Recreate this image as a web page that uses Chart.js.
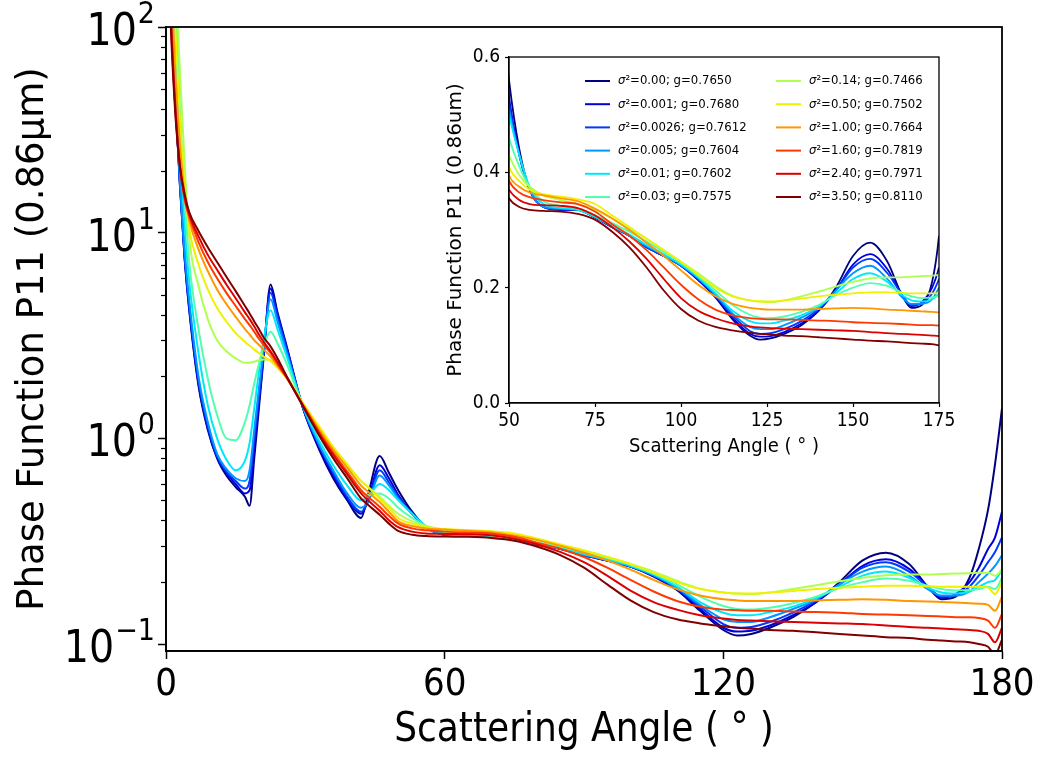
<!DOCTYPE html>
<html>
<head>
<meta charset="utf-8">
<script src="https://cdn.jsdelivr.net/npm/chart.js@4.4.1/dist/chart.umd.min.js"></script>
<style>
  body { margin: 0; background: #fff; }
  #wrap { position: relative; width: 1044px; height: 757px; }
  #main { position: absolute; left: 0; top: 0; }
  #inset { position: absolute; left: 430px; top: 40px; }
</style>
</head>
<body>
<div id="wrap">
  <canvas id="main" width="1044" height="757"></canvas>
  <canvas id="inset" width="540" height="430"></canvas>
</div>
<script>
// scattering angle grid (deg), shared by all curves
const angles = [0, 1, 2, 3, 4, 5, 7, 9, 11, 13, 15, 17, 18, 19, 20, 21, 22.5, 24, 26, 29.5,
  33, 36, 39, 42, 43.5, 46, 48, 50, 53, 56, 60, 65, 70, 75, 80, 85, 90, 95, 100, 105,
  110, 115, 120, 123, 126, 130, 135, 140, 145, 150, 155, 160, 164, 167, 170, 173, 175, 177, 178.5, 180];

const sigma2 = ['0.00', '0.001', '0.0026', '0.005', '0.01', '0.03', '0.14', '0.50', '1.00', '1.60', '2.40', '3.50'];
const gValues = ['0.7650', '0.7680', '0.7612', '0.7604', '0.7602', '0.7575', '0.7466', '0.7502', '0.7664', '0.7819', '0.7971', '0.8110'];
const colors = ['#000080', '#0000dc', '#003aff', '#0097ff', '#00e8f8', '#51ffae', '#aeff51', '#f0f000', '#ff9700', '#ff3a00', '#dc0000', '#800000'];

// P11 values
const p000 = [800, 150, 45, 17, 7.5, 4.2, 1.8, 1.1, 0.8, 0.66, 0.58, 0.52, 0.47, 0.8, 1.4, 2.45, 5.6, 4.1, 2.8, 1.4,
  0.88, 0.64, 0.5, 0.41, 0.53, 0.82, 0.68, 0.56, 0.44, 0.37, 0.34, 0.335, 0.335, 0.322, 0.305, 0.29, 0.27, 0.255, 0.238, 0.213,
  0.183, 0.145, 0.117, 0.11, 0.112, 0.12, 0.135, 0.16, 0.2, 0.255, 0.278, 0.245, 0.19, 0.165, 0.17, 0.21, 0.29, 0.45, 0.75, 1.4];
const p001 = [800, 150, 45, 17, 7.6, 4.3, 1.85, 1.12, 0.81, 0.68, 0.6, 0.54, 0.56, 0.9, 1.5, 2.5, 5.35, 4.0, 2.75, 1.4,
  0.9, 0.66, 0.51, 0.43, 0.5, 0.74, 0.64, 0.53, 0.43, 0.37, 0.34, 0.335, 0.335, 0.322, 0.305, 0.29, 0.27, 0.255, 0.238, 0.214,
  0.185, 0.148, 0.12, 0.115, 0.116, 0.123, 0.138, 0.16, 0.195, 0.24, 0.258, 0.232, 0.19, 0.168, 0.175, 0.2, 0.235, 0.29, 0.33, 0.44];
const p0026 = [800, 155, 46, 17.5, 7.8, 4.4, 1.9, 1.15, 0.82, 0.69, 0.62, 0.57, 0.62, 1.0, 1.6, 2.6, 5.1, 3.9, 2.7, 1.41,
  0.92, 0.68, 0.52, 0.44, 0.49, 0.7, 0.61, 0.52, 0.43, 0.37, 0.34, 0.336, 0.335, 0.322, 0.305, 0.29, 0.27, 0.255, 0.238, 0.215,
  0.186, 0.152, 0.125, 0.12, 0.121, 0.128, 0.142, 0.163, 0.195, 0.235, 0.25, 0.225, 0.19, 0.17, 0.173, 0.19, 0.215, 0.25, 0.28, 0.33];
const p005 = [820, 160, 48, 18, 8.2, 4.7, 2.0, 1.2, 0.84, 0.71, 0.64, 0.62, 0.7, 1.1, 1.75, 2.7, 4.75, 3.7, 2.6, 1.42,
  0.93, 0.7, 0.54, 0.46, 0.49, 0.66, 0.59, 0.51, 0.43, 0.37, 0.34, 0.337, 0.335, 0.322, 0.306, 0.29, 0.272, 0.256, 0.239, 0.216,
  0.188, 0.155, 0.132, 0.128, 0.128, 0.135, 0.148, 0.165, 0.195, 0.225, 0.238, 0.215, 0.185, 0.172, 0.172, 0.18, 0.2, 0.22, 0.24, 0.27];
const p01 = [900, 200, 100, 28, 11, 5.8, 2.6, 1.45, 1.0, 0.79, 0.7, 0.78, 0.95, 1.4, 2.1, 3.0, 4.2, 3.4, 2.5, 1.43,
  0.97, 0.74, 0.59, 0.5, 0.52, 0.6, 0.56, 0.5, 0.43, 0.375, 0.345, 0.338, 0.335, 0.323, 0.307, 0.292, 0.274, 0.258, 0.24, 0.218,
  0.19, 0.16, 0.142, 0.138, 0.138, 0.143, 0.152, 0.167, 0.19, 0.215, 0.225, 0.21, 0.188, 0.178, 0.176, 0.18, 0.19, 0.2, 0.205, 0.23];
const p03 = [1000, 400, 150, 40, 15, 7.2, 3.4, 1.95, 1.3, 1.0, 0.98, 1.2, 1.45, 1.85, 2.3, 2.8, 3.3, 2.9, 2.3, 1.45,
  1.03, 0.8, 0.65, 0.55, 0.53, 0.54, 0.51, 0.46, 0.41, 0.375, 0.35, 0.342, 0.337, 0.326, 0.312, 0.297, 0.28, 0.262, 0.243, 0.22,
  0.195, 0.17, 0.153, 0.148, 0.147, 0.15, 0.158, 0.17, 0.187, 0.2, 0.208, 0.203, 0.192, 0.185, 0.182, 0.183, 0.185, 0.19, 0.185, 0.21];
const p14 = [1200, 500, 200, 60, 22, 9.5, 5.5, 3.8, 3.0, 2.65, 2.45, 2.33, 2.33, 2.36, 2.4, 2.42, 2.4, 2.25, 2.0, 1.48,
  1.13, 0.9, 0.74, 0.62, 0.58, 0.52, 0.47, 0.43, 0.395, 0.375, 0.36, 0.352, 0.345, 0.335, 0.32, 0.302, 0.285, 0.265, 0.245, 0.225,
  0.203, 0.186, 0.178, 0.176, 0.175, 0.178, 0.185, 0.193, 0.202, 0.21, 0.216, 0.218, 0.218, 0.219, 0.22, 0.221, 0.222, 0.222, 0.215, 0.23];
const p50 = [900, 300, 100, 35, 17, 10.5, 7.0, 5.3, 4.3, 3.7, 3.25, 2.95, 2.82, 2.7, 2.6, 2.5, 2.38, 2.2, 1.96, 1.48,
  1.14, 0.91, 0.75, 0.62, 0.58, 0.51, 0.46, 0.41, 0.385, 0.37, 0.362, 0.358, 0.353, 0.345, 0.325, 0.305, 0.285, 0.265, 0.245, 0.222,
  0.2, 0.185, 0.178, 0.176, 0.176, 0.178, 0.181, 0.185, 0.188, 0.19, 0.192, 0.192, 0.191, 0.19, 0.19, 0.19, 0.19, 0.188, 0.175, 0.2];
const p100 = [800, 200, 60, 27, 15.5, 11.5, 8.3, 6.5, 5.3, 4.5, 3.9, 3.4, 3.2, 3.0, 2.85, 2.7, 2.5, 2.25, 1.96, 1.46,
  1.1, 0.88, 0.72, 0.59, 0.55, 0.49, 0.44, 0.395, 0.375, 0.365, 0.36, 0.355, 0.35, 0.337, 0.32, 0.3, 0.278, 0.255, 0.23, 0.205,
  0.185, 0.172, 0.165, 0.163, 0.162, 0.162, 0.162, 0.163, 0.164, 0.165, 0.164, 0.162, 0.161, 0.16, 0.159, 0.158, 0.157, 0.155, 0.145, 0.17];
const p160 = [600, 125, 42, 21, 14.5, 12, 9.0, 7.2, 6.0, 5.1, 4.4, 3.8, 3.55, 3.3, 3.05, 2.85, 2.6, 2.3, 1.97, 1.45,
  1.07, 0.85, 0.69, 0.56, 0.52, 0.465, 0.42, 0.385, 0.365, 0.357, 0.352, 0.348, 0.345, 0.332, 0.31, 0.29, 0.265, 0.235, 0.205, 0.18,
  0.162, 0.152, 0.147, 0.146, 0.145, 0.145, 0.144, 0.143, 0.142, 0.14, 0.139, 0.138, 0.137, 0.136, 0.135, 0.135, 0.134, 0.13, 0.12, 0.14];
const p240 = [550, 115, 40, 21, 15, 12.3, 9.6, 7.8, 6.6, 5.6, 4.8, 4.1, 3.8, 3.5, 3.2, 2.95, 2.65, 2.35, 1.98, 1.44,
  1.05, 0.83, 0.67, 0.54, 0.5, 0.445, 0.4, 0.37, 0.352, 0.345, 0.343, 0.342, 0.338, 0.325, 0.305, 0.28, 0.25, 0.215, 0.182, 0.16,
  0.147, 0.138, 0.133, 0.131, 0.13, 0.129, 0.128, 0.127, 0.126, 0.125, 0.123, 0.121, 0.12, 0.119, 0.118, 0.117, 0.116, 0.112, 0.102, 0.12];
const p350 = [500, 105, 38, 21, 15.5, 12.6, 10.2, 8.5, 7.2, 6.1, 5.2, 4.4, 4.05, 3.7, 3.4, 3.1, 2.8, 2.45, 2.0, 1.43,
  1.03, 0.8, 0.64, 0.51, 0.475, 0.425, 0.385, 0.355, 0.34, 0.335, 0.333, 0.332, 0.328, 0.318, 0.297, 0.27, 0.235, 0.195, 0.163, 0.143,
  0.132, 0.126, 0.122, 0.12, 0.119, 0.117, 0.116, 0.114, 0.112, 0.11, 0.108, 0.107, 0.105, 0.104, 0.103, 0.102, 0.1, 0.097, 0.089, 0.105];

const series = [p000, p001, p0026, p005, p01, p03, p14, p50, p100, p160, p240, p350];

// axis ticks
const mainXTicks = [0, 60, 120, 180];
const mainYTicks = [0.1, 1, 10, 100];
const minorMantissas = [2, 3, 4, 5, 6, 7, 8, 9];
const insetXTicks = [50, 75, 100, 125, 150, 175];
const insetYTicks = [0, 0.2, 0.4, 0.6];

const FONT = '"DejaVu Sans", sans-serif';
const FONT_C = '"DejaVu Sans Condensed", "Liberation Sans Narrow", "DejaVu Sans", sans-serif';

Chart.defaults.font.family = FONT;
Chart.defaults.color = '#000';

function makeDatasets(width) {
  return series.map((vals, i) => ({
    label: 'σ²=' + sigma2[i] + '; g=' + gValues[i],
    data: angles.map((a, k) => ({ x: a, y: vals[k] })),
    borderColor: colors[i],
    borderWidth: width,
    pointRadius: 0,
    cubicInterpolationMode: 'monotone',
    fill: false,
    order: series.length - 1 - i // dark red drawn last, like matplotlib
  }));
}

// box around the plot area, white face, minor log ticks and 10^n labels
const frame = {
  id: 'frame',
  beforeDraw(chart, args, opts) {
    const { ctx, chartArea: a } = chart;
    ctx.save();
    ctx.fillStyle = '#fff';
    ctx.fillRect(a.left, a.top, a.right - a.left, a.bottom - a.top);
    ctx.restore();
  },
  afterDraw(chart, args, opts) {
    const { ctx, chartArea: a, scales } = chart;
    ctx.save();
    ctx.strokeStyle = '#000';
    ctx.lineWidth = opts.width;
    ctx.strokeRect(a.left, a.top, a.right - a.left, a.bottom - a.top);
    if (opts.minor) {
      const y = scales.y;
      ctx.lineWidth = 1.2;
      mainYTicks.slice(0, -1).forEach(dec => {
        minorMantissas.forEach(m => {
          const py = Math.round(y.getPixelForValue(dec * m)) + 0.5;
          ctx.beginPath();
          ctx.moveTo(a.left - opts.minor, py);
          ctx.lineTo(a.left, py);
          ctx.stroke();
        });
      });
      // mathtext-like 10^n labels
      ctx.fillStyle = '#000';
      ctx.textAlign = 'right';
      ctx.textBaseline = 'alphabetic';
      mainYTicks.forEach(v => {
        const py = y.getPixelForValue(v);
        const e = Math.round(Math.log10(v));
        const expText = (e < 0 ? '\u2212' : '') + Math.abs(e);
        ctx.font = '30px ' + FONT_C;
        ctx.fillText(expText, opts.labelRight, py - 4);
        const w = ctx.measureText(expText).width;
        ctx.font = '44px ' + FONT_C;
        ctx.fillText('10', opts.labelRight - w - 1, py + 18);
      });
    }
    ctx.restore();
  }
};

const insetLegend = {
  id: 'insetLegend',
  afterDraw(chart, args, o) {
    const { ctx, chartArea: a } = chart;
    ctx.save();
    ctx.textBaseline = 'middle';
    ctx.textAlign = 'left';
    chart.data.datasets.forEach((ds, i) => {
      const col = Math.floor(i / o.rows), row = i % o.rows;
      const x = a.left + o.colX[col];
      const y = a.top + o.top + row * o.rowGap;
      ctx.strokeStyle = ds.borderColor;
      ctx.lineWidth = 2;
      ctx.beginPath();
      ctx.moveTo(x, y);
      ctx.lineTo(x + o.lineLen, y);
      ctx.stroke();
      ctx.fillStyle = '#000';
      let tx = x + o.textGap;
      ctx.font = 'italic ' + o.size + 'px ' + o.family;
      ctx.fillText('σ', tx, y);
      tx += ctx.measureText('σ').width;
      ctx.font = o.size + 'px ' + o.family;
      ctx.fillText(ds.label.slice(1), tx, y);
    });
    ctx.restore();
  }
};

new Chart(document.getElementById('main'), {
  type: 'line',
  data: { datasets: makeDatasets(2) },
  plugins: [frame],
  options: {
    responsive: false,
    animation: false,
    layout: { padding: { top: 27, right: 42, left: 0, bottom: 0 } },
    plugins: {
      legend: { display: false },
      tooltip: { enabled: false },
      frame: { width: 1.8, minor: 5, labelRight: 155 }
    },
    scales: {
      x: {
        type: 'linear',
        min: 0,
        max: 180,
        afterBuildTicks: s => { s.ticks = mainXTicks.map(v => ({ value: v })); },
        afterFit: s => { s.height = 106; },
        grid: { drawOnChartArea: false, tickLength: 8, tickColor: '#000', tickWidth: 1.5 },
        border: { color: '#000', width: 1.8 },
        ticks: { autoSkip: false, maxRotation: 0, padding: 3, font: { family: FONT_C, size: 38 } },
        title: {
          display: true,
          text: 'Scattering Angle ( ° )',
          font: { family: FONT_C, size: 40 },
          padding: { top: 0, bottom: 2 }
        }
      },
      y: {
        type: 'logarithmic',
        min: 0.0925,
        max: 100,
        afterBuildTicks: s => { s.ticks = mainYTicks.map(v => ({ value: v })); },
        afterFit: s => { s.width = 166; },
        grid: { drawOnChartArea: false, tickLength: 8, tickColor: '#000', tickWidth: 1.5 },
        border: { color: '#000', width: 1.8 },
        ticks: { autoSkip: false, padding: 6, callback: () => '' },
        title: {
          display: true,
          text: 'Phase Function P11 (0.86μm)',
          font: { family: FONT, size: 37 },
          padding: { top: 11, bottom: 0 }
        }
      }
    }
  }
});

new Chart(document.getElementById('inset'), {
  type: 'line',
  data: { datasets: makeDatasets(1.8) },
  plugins: [frame, insetLegend],
  options: {
    responsive: false,
    animation: false,
    layout: { padding: { top: 17, right: 31, left: 0, bottom: 0 } },
    plugins: {
      legend: { display: false },
      tooltip: { enabled: false },
      frame: { width: 1.3, minor: 0 },
      insetLegend: { rows: 6, colX: [76, 267], top: 24, rowGap: 23.2, lineLen: 25, textGap: 33, size: 13, family: FONT_C }
    },
    scales: {
      x: {
        type: 'linear',
        min: 50,
        max: 175,
        afterBuildTicks: s => { s.ticks = insetXTicks.map(v => ({ value: v })); },
        afterFit: s => { s.height = 67; },
        grid: { drawOnChartArea: false, tickLength: 4, tickColor: '#000', tickWidth: 1.2 },
        border: { color: '#000', width: 1.3 },
        ticks: { autoSkip: false, maxRotation: 0, padding: 3, font: { family: FONT_C, size: 19 } },
        title: {
          display: true,
          text: 'Scattering Angle ( ° )',
          font: { family: FONT_C, size: 20 },
          padding: { top: 0, bottom: 11 }
        }
      },
      y: {
        type: 'linear',
        min: 0,
        max: 0.6,
        afterBuildTicks: s => { s.ticks = insetYTicks.map(v => ({ value: v })); },
        afterFit: s => { s.width = 79; },
        grid: { drawOnChartArea: false, tickLength: 4, tickColor: '#000', tickWidth: 1.2 },
        border: { color: '#000', width: 1.3 },
        ticks: { autoSkip: false, padding: 5, font: { family: FONT_C, size: 19 }, callback: v => v.toFixed(1) },
        title: {
          display: true,
          text: 'Phase Function P11 (0.86um)',
          font: { family: FONT, size: 20 },
          padding: { top: 14, bottom: 0 }
        }
      }
    }
  }
});
</script>
</body>
</html>
